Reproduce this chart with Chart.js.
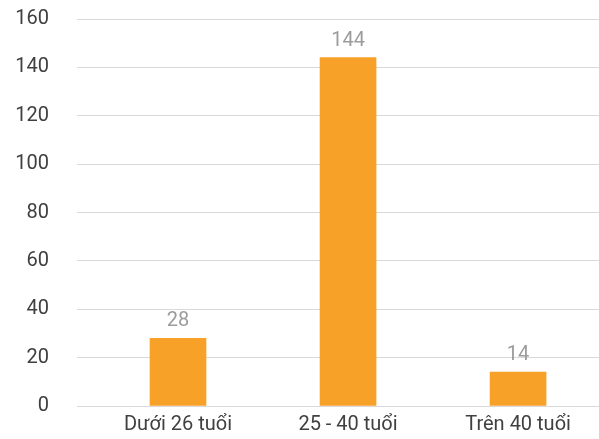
<!DOCTYPE html>
<html>
<head>
<meta charset="utf-8">
<script src="https://cdn.jsdelivr.net/npm/chart.js@4.4.1/dist/chart.umd.min.js"></script>
<style>
html,body{margin:0;padding:0;background:#fff;overflow:hidden;}
#wrap{width:599px;height:439px;position:relative;}
</style>
</head>
<body>
<div id="wrap"><canvas id="c" width="599" height="439"></canvas></div>
<script>
const categories = ['Dưới 26 tuổi', '25 - 40 tuổi', 'Trên 40 tuổi'];
const values = [28, 144, 14];
const yTicks = [0, 20, 40, 60, 80, 100, 120, 140, 160];

const FONT = 'Roboto, "Noto Sans", sans-serif';

const valueLabels = {
  id: 'valueLabels',
  afterDatasetsDraw(chart) {
    const ctx = chart.ctx;
    const meta = chart.getDatasetMeta(0);
    ctx.save();
    ctx.fillStyle = '#9c9c9c';
    ctx.font = '20px ' + FONT;
    ctx.textAlign = 'center';
    ctx.textBaseline = 'alphabetic';
    meta.data.forEach((bar, i) => {
      ctx.fillText(String(values[i]), bar.x, bar.y - 12);
    });
    ctx.restore();
  }
};

new Chart(document.getElementById('c'), {
  type: 'bar',
  data: {
    datasets: [{
      data: values.map((v, i) => ({ x: i, y: v })),
      backgroundColor: '#F7A128',
      borderWidth: 0,
      barThickness: 56
    }]
  },
  options: {
    responsive: false,
    animation: false,
    devicePixelRatio: 1,
    layout: { padding: { top: 19, right: 0, left: 0, bottom: 0 } },
    plugins: { legend: { display: false }, tooltip: { enabled: false } },
    scales: {
      x: {
        type: 'linear',
        offset: false,
        min: -0.594,
        max: 2.476,
        afterBuildTicks: (s) => { s.ticks = categories.map((_, i) => ({ value: i })); },
        afterFit: (s) => { s.height = 33; },
        grid: { display: false, drawTicks: false },
        border: { display: false },
        ticks: {
          padding: 7,
          maxRotation: 0,
          autoSkip: false,
          color: '#404040',
          font: { family: FONT, size: 20 },
          callback: (v) => categories[v]
        }
      },
      y: {
        min: 0,
        max: 160,
        afterBuildTicks: (s) => { s.ticks = yTicks.map(v => ({ value: v })); },
        afterFit: (s) => { s.width = 77; s.paddingTop = 10; s.paddingBottom = 10; },
        grid: { color: '#d9d9d9', lineWidth: 1, drawTicks: false },
        border: { display: false },
        ticks: {
          padding: 28,
          color: '#404040',
          font: { family: FONT, size: 20 }
        }
      }
    }
  },
  plugins: [valueLabels]
});
</script>
</body>
</html>
